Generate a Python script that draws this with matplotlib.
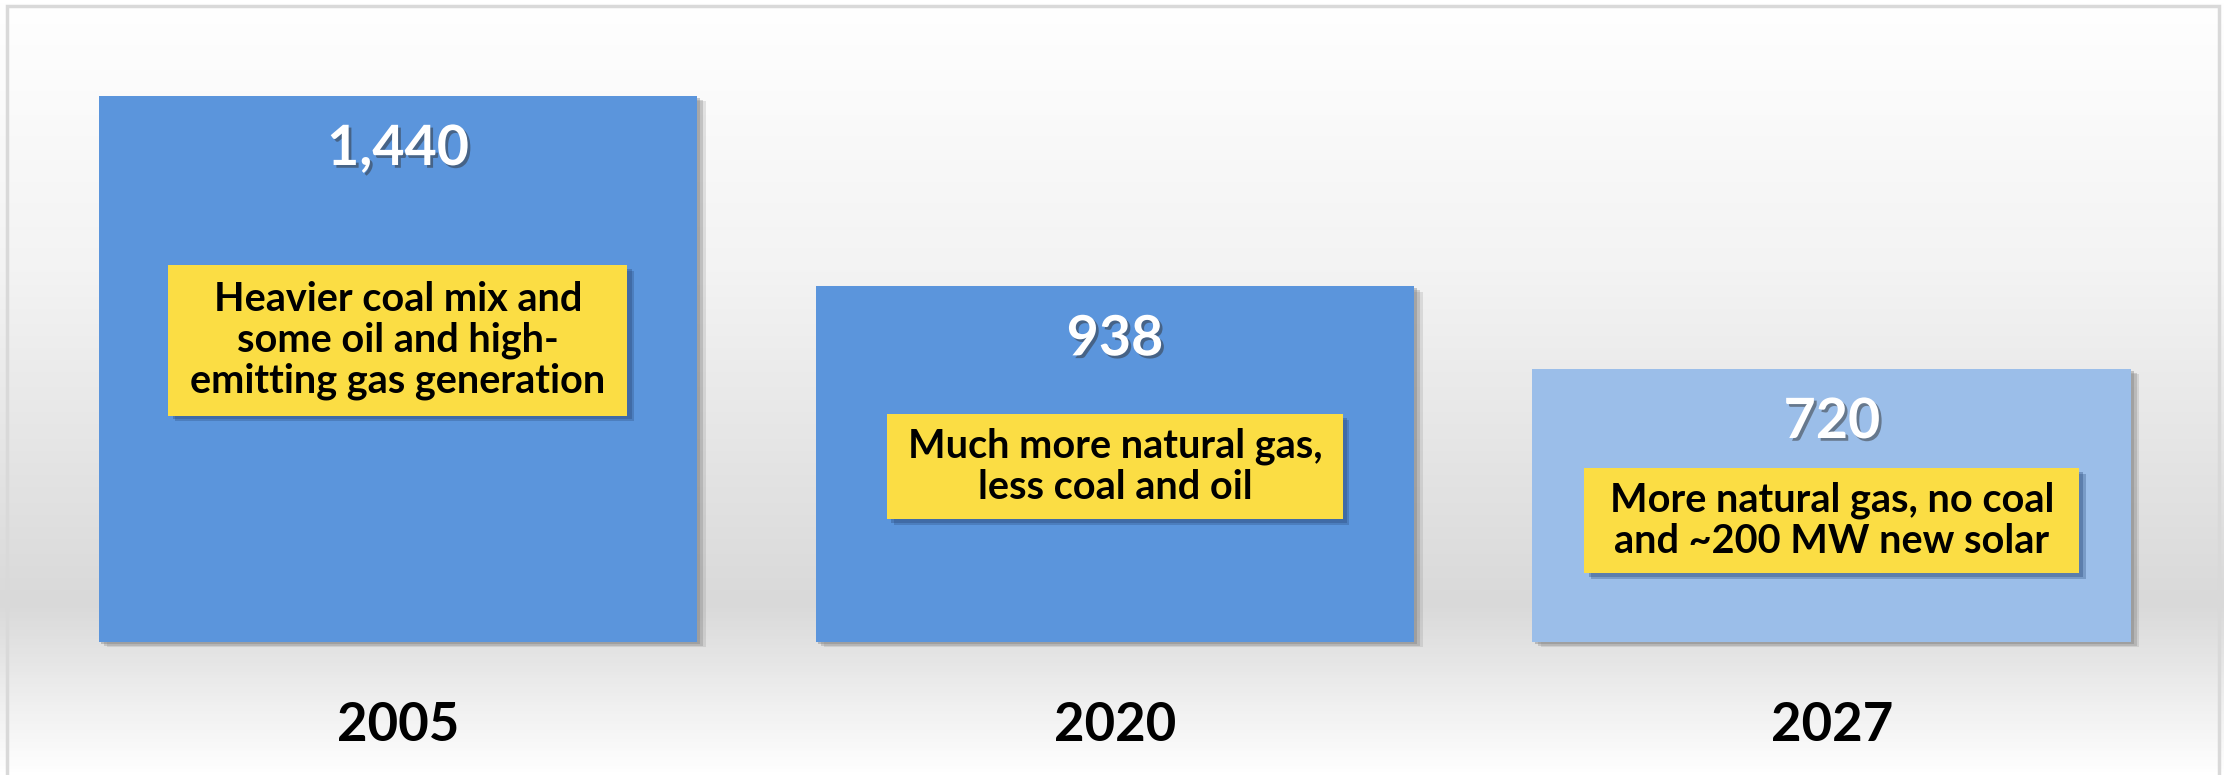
import numpy as np
import matplotlib
matplotlib.use("Agg")
import matplotlib.pyplot as plt
import matplotlib.patheffects as pe
from matplotlib.colors import LinearSegmentedColormap
from matplotlib.patches import Rectangle

# datos del grafico
anios = ["2005", "2020", "2027"]
valores = [1440, 938, 720]
etiquetas = ["1,440", "938", "720"]
notas = [
    "Heavier coal mix and\nsome oil and high-\nemitting gas generation",
    "Much more natural gas,\nless coal and oil",
    "More natural gas, no coal\nand ~200 MW new solar",
]

# estilo / posicion
colores = ["#5b95dc", "#5b95dc", "#9bbee9"]
amarillo = "#fbdd44"
ancho_barra = 0.835
ancho_nota = [0.64, 0.635, 0.69]      # ancho de la caja amarilla (unidades x)
centro_nota = [795, 462, 320]          # centro vertical de la caja (unidades y)
alto_nota = [396, 277, 277]
fuente = "Lato"

fig = plt.figure(figsize=(22.24, 7.75), dpi=100)
ax = fig.add_axes([0, 0, 1, 1])
x = np.arange(len(anios))
ax.set_xlim(-0.555, 2.547)
ax.set_ylim(-351, 1693)
ax.axis("off")

# fondo con degradado vertical
fondo = LinearSegmentedColormap.from_list(
    "fondo", [(0, "#ffffff"), (0.35, "#f3f3f3"), (0.78, "#d9d9d9"), (1.0, "#ffffff")])
grad = np.linspace(0, 1, 256).reshape(-1, 1)
ax.imshow(grad, cmap=fondo, aspect="auto", extent=[-0.555, 2.547, -351, 1693],
          origin="upper", zorder=0)

# barras con sombra (varias capas para simular desenfoque)
sombra = [pe.SimplePatchShadow(offset=(6, -4), shadow_rgbFace="#7f7f7f", alpha=0.2),
          pe.SimplePatchShadow(offset=(4, -3), shadow_rgbFace="#7f7f7f", alpha=0.3),
          pe.SimplePatchShadow(offset=(2, -1.5), shadow_rgbFace="#7f7f7f", alpha=0.4),
          pe.Normal()]
barras = ax.bar(x, valores, width=ancho_barra, color=colores, zorder=2)
for b in barras:
    b.set_path_effects(sombra)

# valores dentro de las barras
for i in range(len(anios)):
    ax.text(x[i], valores[i] - 140, etiquetas[i], ha="center", va="center",
            fontsize=40, fontweight="bold", color="white", family=fuente, zorder=5,
            path_effects=[pe.withSimplePatchShadow(offset=(2, -2), shadow_rgbFace="#333333",
                                                   alpha=0.5)])

# cajas amarillas con texto
for i in range(len(anios)):
    caja = Rectangle((x[i] - ancho_nota[i] / 2, centro_nota[i] - alto_nota[i] / 2),
                     ancho_nota[i], alto_nota[i], facecolor=amarillo, edgecolor="none",
                     zorder=3)
    caja.set_path_effects([pe.SimplePatchShadow(offset=(5, -4), shadow_rgbFace="#2a4a7a",
                                                alpha=0.3),
                           pe.SimplePatchShadow(offset=(3, -2.5), shadow_rgbFace="#2a4a7a",
                                                alpha=0.35), pe.Normal()])
    ax.add_patch(caja)
    ax.text(x[i], centro_nota[i], notas[i], ha="center", va="center", fontsize=28.5,
            fontweight="bold", color="black", family=fuente, linespacing=1.12, zorder=4)

# etiquetas de los anios
for i in range(len(anios)):
    ax.text(x[i], -220, anios[i], ha="center", va="center", fontsize=38,
            fontweight="bold", color="black", family=fuente, zorder=4)

# marco gris
marco = Rectangle((7 / 2224, -0.01), 2212 / 2224, 1 - 6 / 775 + 0.01, transform=fig.transFigure,
                  fill=False, edgecolor="#d9d9d9", linewidth=2.5, zorder=10)
fig.patches.append(marco)

fig.savefig("out.png", dpi=100)
